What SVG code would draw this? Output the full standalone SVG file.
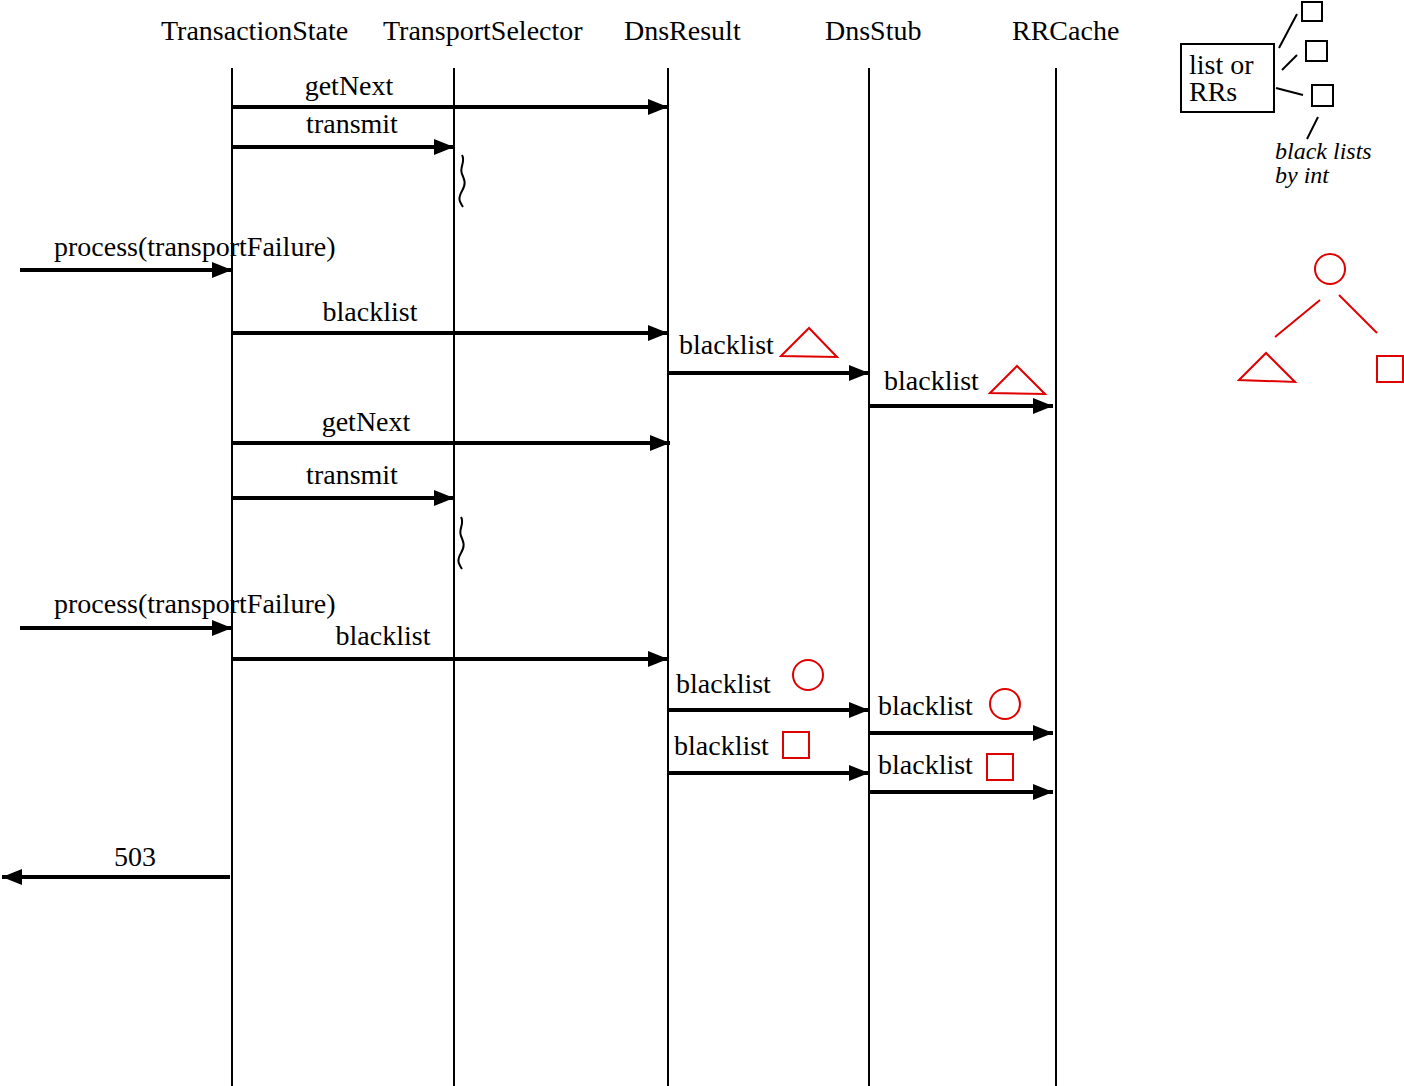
<svg xmlns="http://www.w3.org/2000/svg" width="1404" height="1086" viewBox="0 0 1404 1086">
<style>
text{font-family:"Liberation Serif","Times New Roman",serif;font-size:28px;fill:#000}
.it{font-style:italic;font-size:24px}
.life{stroke:#000;stroke-width:2;fill:none}
.msg{stroke:#000;stroke-width:4;fill:none}
.thin{stroke:#000;stroke-width:2;fill:none}
.red{stroke:#e00000;stroke-width:2;fill:none}
.sq{stroke:#000;stroke-width:2;fill:none}
</style>
<defs>
<marker id="ah" markerUnits="userSpaceOnUse" markerWidth="22" markerHeight="18" refX="20" refY="9" orient="auto">
<path d="M0,1 L20,9 L0,17 Z" fill="#000"/>
</marker>
</defs>
<rect width="1404" height="1086" fill="#fff"/>
<g id="lifelines">
<g id="TransactionState"><text x="161" y="40">TransactionState</text><line class="life" x1="232" y1="68" x2="232" y2="1086"/></g>
<g id="TransportSelector"><text x="383" y="40">TransportSelector</text><line class="life" x1="454" y1="68" x2="454" y2="1086"/></g>
<g id="DnsResult"><text x="624" y="40">DnsResult</text><line class="life" x1="668" y1="68" x2="668" y2="1086"/></g>
<g id="DnsStub"><text x="825" y="40">DnsStub</text><line class="life" x1="869" y1="68" x2="869" y2="1086"/></g>
<g id="RRCache"><text x="1012" y="40">RRCache</text><line class="life" x1="1056" y1="68" x2="1056" y2="1086"/></g>
</g>
<g id="connectors">
<line class="msg" x1="232" y1="107" x2="668" y2="107" marker-end="url(#ah)"/>
<line class="msg" x1="232" y1="147" x2="454" y2="147" marker-end="url(#ah)"/>
<line class="msg" x1="20" y1="270" x2="232" y2="270" marker-end="url(#ah)"/>
<line class="msg" x1="232" y1="333" x2="668" y2="333" marker-end="url(#ah)"/>
<line class="msg" x1="668" y1="373" x2="869" y2="373" marker-end="url(#ah)"/>
<line class="msg" x1="869" y1="406" x2="1053" y2="406" marker-end="url(#ah)"/>
<line class="msg" x1="232" y1="443" x2="670" y2="443" marker-end="url(#ah)"/>
<line class="msg" x1="232" y1="498" x2="454" y2="498" marker-end="url(#ah)"/>
<line class="msg" x1="20" y1="628" x2="232" y2="628" marker-end="url(#ah)"/>
<line class="msg" x1="232" y1="659" x2="668" y2="659" marker-end="url(#ah)"/>
<line class="msg" x1="668" y1="710" x2="869" y2="710" marker-end="url(#ah)"/>
<line class="msg" x1="869" y1="733" x2="1053" y2="733" marker-end="url(#ah)"/>
<line class="msg" x1="668" y1="773" x2="869" y2="773" marker-end="url(#ah)"/>
<line class="msg" x1="869" y1="792" x2="1053" y2="792" marker-end="url(#ah)"/>
<line class="msg" x1="230" y1="877" x2="2" y2="877" marker-end="url(#ah)"/>
<path class="thin" d="M462,155 C466,162 459,167 462,174 S466,184 462,191 S459,201 463,207" stroke-width="1.5"/>
<path class="thin" d="M461,517 C465,524 458,529 461,536 S465,546 461,553 S458,563 462,569" stroke-width="1.5"/>
</g>
<g id="labels">
<text x="349" y="95" text-anchor="middle">getNext</text>
<text x="352" y="133" text-anchor="middle">transmit</text>
<text x="54" y="256">process(transportFailure)</text>
<text x="370" y="321" text-anchor="middle">blacklist</text>
<text x="679" y="354">blacklist</text>
<text x="884" y="390">blacklist</text>
<text x="366" y="431" text-anchor="middle">getNext</text>
<text x="352" y="484" text-anchor="middle">transmit</text>
<text x="54" y="613">process(transportFailure)</text>
<text x="383" y="645" text-anchor="middle">blacklist</text>
<text x="676" y="693">blacklist</text>
<text x="878" y="715">blacklist</text>
<text x="674" y="755">blacklist</text>
<text x="878" y="774">blacklist</text>
<text x="135" y="866" text-anchor="middle">503</text>
</g>
<g id="markers-red">
<polygon class="red" points="781,356 809,328 837,357"/>
<polygon class="red" points="990,393 1017,366 1045,394"/>
<circle class="red" cx="808" cy="675" r="15"/>
<circle class="red" cx="1005" cy="704" r="15"/>
<rect class="red" x="783" y="732" width="26" height="26"/>
<rect class="red" x="987" y="754" width="26" height="26"/>
</g>
<g id="legend">
<rect class="sq" x="1181" y="44" width="93" height="68"/>
<text x="1189" y="74">list or</text>
<text x="1189" y="101">RRs</text>
<rect class="sq" x="1302" y="2" width="20" height="19"/>
<rect class="sq" x="1306" y="41" width="21" height="20"/>
<rect class="sq" x="1312" y="85" width="21" height="21"/>
<line class="thin" x1="1279" y1="48" x2="1297" y2="14"/>
<line class="thin" x1="1282" y1="70" x2="1297" y2="55"/>
<line class="thin" x1="1276" y1="88" x2="1303" y2="95"/>
<line class="thin" x1="1318" y1="117" x2="1307" y2="139"/>
<text class="it" x="1275" y="159">black lists</text>
<text class="it" x="1275" y="183">by int</text>
</g>
<g id="tree">
<circle class="red" cx="1330" cy="269" r="15"/>
<line class="red" x1="1320" y1="300" x2="1275" y2="337"/>
<line class="red" x1="1339" y1="295" x2="1377" y2="333"/>
<polygon class="red" points="1239,380 1266,353 1295,382"/>
<rect class="red" x="1377" y="356" width="26" height="26"/>
</g>
</svg>
